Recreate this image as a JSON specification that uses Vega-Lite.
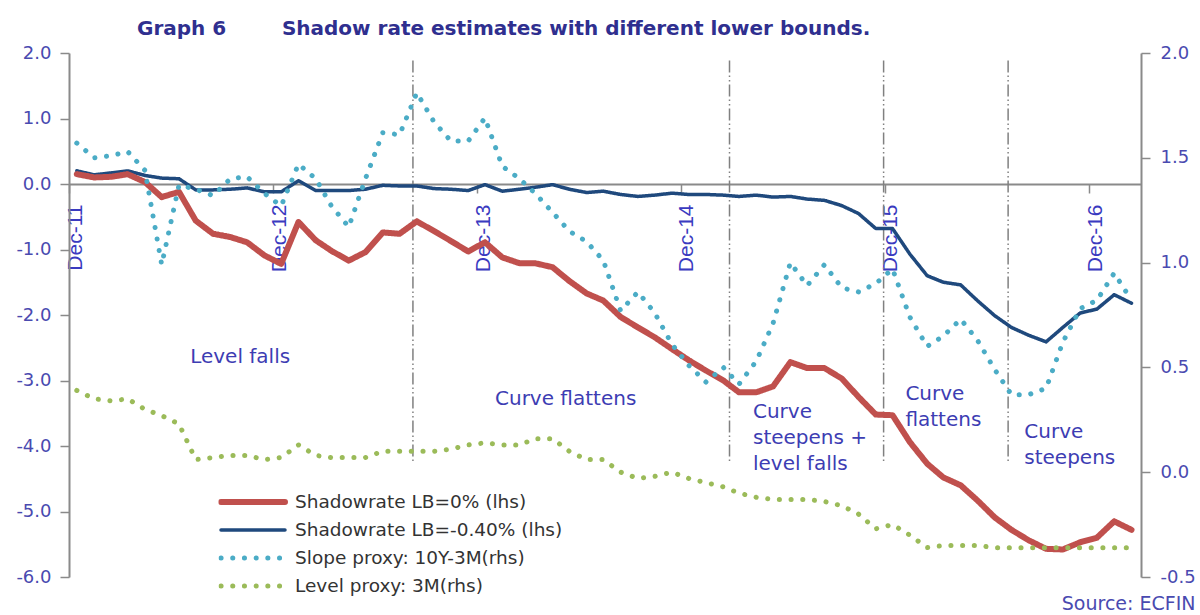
{
  "$schema": "https://vega.github.io/schema/vega-lite/v6.json",
  "width": 1072,
  "height": 524,
  "autosize": {"type": "none"},
  "padding": {"left": 69, "top": 53, "right": 59, "bottom": 38},
  "background": "white",
  "title": {
    "text": "Graph 6\u00a0\u00a0\u00a0\u00a0\u00a0\u00a0\u00a0\u00a0Shadow rate estimates with different lower bounds.",
    "anchor": "start", "frame": "group", "dx": 68, "offset": 5,
    "fontSize": 20, "font": "DejaVu Sans", "fontWeight": "bold", "color": "#2f2f8f"
  },
  "config": {"view": {"stroke": null}, "axis": {"grid": false}},
  "datasets": {
    "rates": [
      {"date": "2011-12-15", "lb0": 0.15, "lb40": 0.20, "slope": 1.57, "level": 0.39},
      {"date": "2012-01-15", "lb0": 0.10, "lb40": 0.14, "slope": 1.50, "level": 0.35},
      {"date": "2012-02-15", "lb0": 0.11, "lb40": 0.17, "slope": 1.51, "level": 0.34},
      {"date": "2012-03-15", "lb0": 0.15, "lb40": 0.20, "slope": 1.53, "level": 0.35},
      {"date": "2012-04-15", "lb0": 0.03, "lb40": 0.13, "slope": 1.44, "level": 0.30},
      {"date": "2012-05-15", "lb0": -0.20, "lb40": 0.09, "slope": 0.99, "level": 0.27},
      {"date": "2012-06-15", "lb0": -0.12, "lb40": 0.08, "slope": 1.37, "level": 0.23},
      {"date": "2012-07-15", "lb0": -0.56, "lb40": -0.09, "slope": 1.35, "level": 0.06},
      {"date": "2012-08-15", "lb0": -0.76, "lb40": -0.09, "slope": 1.32, "level": 0.07},
      {"date": "2012-09-15", "lb0": -0.81, "lb40": -0.08, "slope": 1.40, "level": 0.08},
      {"date": "2012-10-15", "lb0": -0.89, "lb40": -0.06, "slope": 1.41, "level": 0.08},
      {"date": "2012-11-15", "lb0": -1.09, "lb40": -0.12, "slope": 1.33, "level": 0.06},
      {"date": "2012-12-15", "lb0": -1.22, "lb40": -0.12, "slope": 1.27, "level": 0.07},
      {"date": "2013-01-15", "lb0": -0.58, "lb40": 0.05, "slope": 1.47, "level": 0.13},
      {"date": "2013-02-15", "lb0": -0.86, "lb40": -0.10, "slope": 1.40, "level": 0.08},
      {"date": "2013-03-15", "lb0": -1.02, "lb40": -0.10, "slope": 1.27, "level": 0.07},
      {"date": "2013-04-15", "lb0": -1.17, "lb40": -0.10, "slope": 1.17, "level": 0.07},
      {"date": "2013-05-15", "lb0": -1.04, "lb40": -0.08, "slope": 1.40, "level": 0.07},
      {"date": "2013-06-15", "lb0": -0.74, "lb40": -0.02, "slope": 1.62, "level": 0.10},
      {"date": "2013-07-15", "lb0": -0.76, "lb40": -0.03, "slope": 1.61, "level": 0.10},
      {"date": "2013-08-15", "lb0": -0.57, "lb40": -0.03, "slope": 1.81, "level": 0.10},
      {"date": "2013-09-15", "lb0": -0.72, "lb40": -0.07, "slope": 1.67, "level": 0.10},
      {"date": "2013-10-15", "lb0": -0.87, "lb40": -0.08, "slope": 1.58, "level": 0.11},
      {"date": "2013-11-15", "lb0": -1.03, "lb40": -0.10, "slope": 1.58, "level": 0.13},
      {"date": "2013-12-15", "lb0": -0.89, "lb40": -0.01, "slope": 1.69, "level": 0.14},
      {"date": "2014-01-15", "lb0": -1.12, "lb40": -0.11, "slope": 1.46, "level": 0.13},
      {"date": "2014-02-15", "lb0": -1.21, "lb40": -0.08, "slope": 1.40, "level": 0.13},
      {"date": "2014-03-15", "lb0": -1.21, "lb40": -0.05, "slope": 1.33, "level": 0.16},
      {"date": "2014-04-15", "lb0": -1.27, "lb40": -0.01, "slope": 1.24, "level": 0.16},
      {"date": "2014-05-15", "lb0": -1.48, "lb40": -0.08, "slope": 1.15, "level": 0.10},
      {"date": "2014-06-15", "lb0": -1.67, "lb40": -0.13, "slope": 1.10, "level": 0.06},
      {"date": "2014-07-15", "lb0": -1.78, "lb40": -0.11, "slope": 1.01, "level": 0.06},
      {"date": "2014-08-15", "lb0": -2.03, "lb40": -0.16, "slope": 0.77, "level": 0.00},
      {"date": "2014-09-15", "lb0": -2.19, "lb40": -0.19, "slope": 0.86, "level": -0.03},
      {"date": "2014-10-15", "lb0": -2.34, "lb40": -0.17, "slope": 0.76, "level": -0.02},
      {"date": "2014-11-15", "lb0": -2.52, "lb40": -0.14, "slope": 0.61, "level": 0.00},
      {"date": "2014-12-15", "lb0": -2.69, "lb40": -0.16, "slope": 0.51, "level": -0.03},
      {"date": "2015-01-15", "lb0": -2.85, "lb40": -0.16, "slope": 0.43, "level": -0.05},
      {"date": "2015-02-15", "lb0": -3.00, "lb40": -0.17, "slope": 0.50, "level": -0.07},
      {"date": "2015-03-15", "lb0": -3.18, "lb40": -0.19, "slope": 0.42, "level": -0.10},
      {"date": "2015-04-15", "lb0": -3.18, "lb40": -0.17, "slope": 0.53, "level": -0.12},
      {"date": "2015-05-15", "lb0": -3.09, "lb40": -0.20, "slope": 0.71, "level": -0.13},
      {"date": "2015-06-15", "lb0": -2.72, "lb40": -0.19, "slope": 1.00, "level": -0.13},
      {"date": "2015-07-15", "lb0": -2.81, "lb40": -0.23, "slope": 0.89, "level": -0.13},
      {"date": "2015-08-15", "lb0": -2.81, "lb40": -0.25, "slope": 0.99, "level": -0.14},
      {"date": "2015-09-15", "lb0": -2.97, "lb40": -0.33, "slope": 0.88, "level": -0.16},
      {"date": "2015-10-15", "lb0": -3.25, "lb40": -0.45, "slope": 0.86, "level": -0.20},
      {"date": "2015-11-15", "lb0": -3.52, "lb40": -0.68, "slope": 0.90, "level": -0.27},
      {"date": "2015-12-15", "lb0": -3.53, "lb40": -0.68, "slope": 0.97, "level": -0.25},
      {"date": "2016-01-15", "lb0": -3.94, "lb40": -1.07, "slope": 0.74, "level": -0.30},
      {"date": "2016-02-15", "lb0": -4.27, "lb40": -1.40, "slope": 0.60, "level": -0.36},
      {"date": "2016-03-15", "lb0": -4.48, "lb40": -1.50, "slope": 0.65, "level": -0.35},
      {"date": "2016-04-15", "lb0": -4.60, "lb40": -1.54, "slope": 0.73, "level": -0.35},
      {"date": "2016-05-15", "lb0": -4.83, "lb40": -1.78, "slope": 0.63, "level": -0.35},
      {"date": "2016-06-15", "lb0": -5.09, "lb40": -2.01, "slope": 0.49, "level": -0.36},
      {"date": "2016-07-15", "lb0": -5.28, "lb40": -2.19, "slope": 0.37, "level": -0.36},
      {"date": "2016-08-15", "lb0": -5.44, "lb40": -2.31, "slope": 0.37, "level": -0.36},
      {"date": "2016-09-15", "lb0": -5.57, "lb40": -2.41, "slope": 0.40, "level": -0.36},
      {"date": "2016-10-15", "lb0": -5.58, "lb40": -2.19, "slope": 0.62, "level": -0.36},
      {"date": "2016-11-15", "lb0": -5.47, "lb40": -1.97, "slope": 0.78, "level": -0.36},
      {"date": "2016-12-15", "lb0": -5.40, "lb40": -1.91, "slope": 0.82, "level": -0.36},
      {"date": "2017-01-15", "lb0": -5.15, "lb40": -1.69, "slope": 0.95, "level": -0.36},
      {"date": "2017-02-15", "lb0": -5.28, "lb40": -1.82, "slope": 0.82, "level": -0.36}
    ],
    "events": [
      {"date": "2013-08-08"},
      {"date": "2015-02-26"},
      {"date": "2015-11-29"},
      {"date": "2016-07-09"}
    ],
    "notes": [
      {"date": "2012-07-05", "top": -2.49, "note": "Level falls"},
      {"date": "2014-01-02", "top": -3.13, "note": "Curve flattens"},
      {"date": "2015-04-09", "top": -3.33, "note": "Curve\nsteepens +\nlevel falls"},
      {"date": "2016-01-07", "top": -3.05, "note": "Curve\nflattens"},
      {"date": "2016-08-07", "top": -3.64, "note": "Curve\nsteepens"}
    ]
  },
  "encoding": {
    "x": {"field": "date", "type": "temporal",
          "scale": {"type": "utc", "domain": [{"year": 2011, "month": 12, "date": 1, "utc": true}, {"year": 2017, "month": 3, "date": 4, "utc": true}]},
          "axis": {
            "orient": "bottom", "offset": -393, "title": null,
            "values": [
              {"year": 2011, "month": 12, "date": 1, "utc": true},
              {"year": 2012, "month": 12, "date": 1, "utc": true},
              {"year": 2013, "month": 12, "date": 1, "utc": true},
              {"year": 2014, "month": 12, "date": 1, "utc": true},
              {"year": 2015, "month": 12, "date": 1, "utc": true},
              {"year": 2016, "month": 12, "date": 1, "utc": true}
            ],
            "format": "%b-%y", "labelAngle": -90, "labelOffset": 6,
            "labelFont": "Liberation Sans", "labelFontSize": 21, "labelColor": "#3a3ac0",
            "labelPadding": 11, "labelOverlap": false, "labelFlush": false,
            "domainColor": "#8a8a8a", "domainWidth": 2,
            "tickColor": "#8a8a8a", "tickSize": 9, "tickWidth": 1.5
          }}
  },
  "layer": [
    {
      "layer": [
        {
          "data": {"name": "events"},
          "mark": {"type": "rule", "color": "#808080", "strokeWidth": 1.5, "strokeDash": [12, 3, 1.5, 3, 1.5, 3]},
          "encoding": {
            "y": {"datum": 1.885, "type": "quantitative"},
            "y2": {"datum": -4.27}
          }
        },
        {
          "data": {"name": "rates"},
          "transform": [{"fold": ["lb40"], "as": ["series", "value"]}],
          "mark": {"type": "line", "strokeWidth": 3.5, "strokeCap": "round", "strokeJoin": "round"},
          "encoding": {
            "y": {"field": "value", "type": "quantitative"},
            "color": {"field": "series", "type": "nominal",
                      "scale": {"domain": ["lb0", "lb40", "slope", "level"], "range": ["#C0504D", "#1F497D", "#4BACC6", "#9BBB59"]}},
            "strokeDash": {"field": "series", "type": "nominal",
                      "scale": {"domain": ["lb0", "lb40", "slope", "level"], "range": [[1, 0], [1, 0], [0.1, 11.6], [0.1, 11.6]]}}
          }
        },
        {
          "data": {"name": "rates"},
          "transform": [{"fold": ["lb0"], "as": ["series", "value"]}],
          "mark": {"type": "line", "strokeWidth": 6, "strokeCap": "round", "strokeJoin": "round"},
          "encoding": {
            "y": {"field": "value", "type": "quantitative",
                  "scale": {"domain": [-6, 2], "nice": false, "zero": false},
                  "axis": {
                    "orient": "left", "title": null, "values": [-6, -5, -4, -3, -2, -1, 0, 1, 2],
                    "labelExpr": "replace(format(datum.value, '.1f'), '\u2212', '-')",
                    "labelFont": "DejaVu Sans", "labelFontSize": 18, "labelColor": "#4a4ab0",
                    "labelPadding": 9, "domainColor": "#8a8a8a", "domainWidth": 2,
                    "tickColor": "#8a8a8a", "tickSize": 9, "tickWidth": 1.5
                  }},
            "color": {"field": "series", "type": "nominal",
                      "scale": {"domain": ["lb0", "lb40", "slope", "level"], "range": ["#C0504D", "#1F497D", "#4BACC6", "#9BBB59"]},
                      "legend": {
                        "orient": "none", "legendX": 149.5, "legendY": 439, "title": null, "padding": 0,
                        "symbolType": "stroke", "symbolSize": 4096, "symbolStrokeWidth": 5, "clipHeight": 20,
                        "rowPadding": 8, "labelOffset": 7.5, "labelLimit": 0,
                        "labelFont": "DejaVu Sans", "labelFontSize": 18.5, "labelColor": "#333333",
                        "labelExpr": "datum.value == 'lb0' ? 'Shadowrate LB=0% (lhs)' : datum.value == 'lb40' ? 'Shadowrate LB=-0.40% (lhs)' : datum.value == 'slope' ? 'Slope proxy: 10Y-3M(rhs)' : 'Level proxy: 3M(rhs)'",
                        "encoding": {"symbols": {
                          "strokeCap": {"value": "round"},
                          "strokeWidth": {"value": {"expr": "(datum.value == 'lb0' ? 6 : datum.value == 'lb40' ? 3.5 : 5)"}}
                        }}
                      }},
            "strokeDash": {"field": "series", "type": "nominal",
                      "scale": {"domain": ["lb0", "lb40", "slope", "level"], "range": [[1, 0], [1, 0], [0.1, 11.6], [0.1, 11.6]]}}
          }
        },
        {
          "data": {"name": "notes"},
          "mark": {"type": "text", "align": "left", "baseline": "top", "lineBreak": "\n", "lineHeight": 26,
                   "font": "DejaVu Sans", "fontSize": 20, "color": "#3d3db3"},
          "encoding": {
            "y": {"field": "top", "type": "quantitative"},
            "text": {"field": "note", "type": "nominal"}
          }
        }
      ]
    },
    {
      "data": {"name": "rates"},
      "transform": [{"fold": ["slope", "level"], "as": ["series", "value"]}],
      "mark": {"type": "line", "strokeWidth": 5, "strokeCap": "round", "strokeJoin": "round"},
      "encoding": {
        "y": {"field": "value", "type": "quantitative",
              "scale": {"domain": [-0.5, 2], "nice": false, "zero": false},
              "axis": {
                "orient": "right", "values": [-0.5, 0, 0.5, 1, 1.5, 2],
                "labelExpr": "replace(format(datum.value, '.1f'), '\u2212', '-')",
                "labelFont": "DejaVu Sans", "labelFontSize": 18, "labelColor": "#4a4ab0",
                "labelPadding": 10, "domainColor": "#8a8a8a", "domainWidth": 2,
                "tickColor": "#8a8a8a", "tickSize": 9, "tickWidth": 1.5,
                "title": "Source: ECFIN", "titleAngle": 0, "titleX": 54, "titleY": 550,
                "titleAlign": "right", "titleBaseline": "middle",
                "titleFont": "DejaVu Sans", "titleFontSize": 19, "titleFontWeight": "normal", "titleColor": "#4a4ab0"
              }},
        "color": {"field": "series", "type": "nominal",
                  "scale": {"domain": ["lb0", "lb40", "slope", "level"], "range": ["#C0504D", "#1F497D", "#4BACC6", "#9BBB59"]}},
        "strokeDash": {"field": "series", "type": "nominal",
                  "scale": {"domain": ["lb0", "lb40", "slope", "level"], "range": [[1, 0], [1, 0], [0.1, 11.6], [0.1, 11.6]]}}
      }
    }
  ],
  "resolve": {"scale": {"y": "independent"}}
}
